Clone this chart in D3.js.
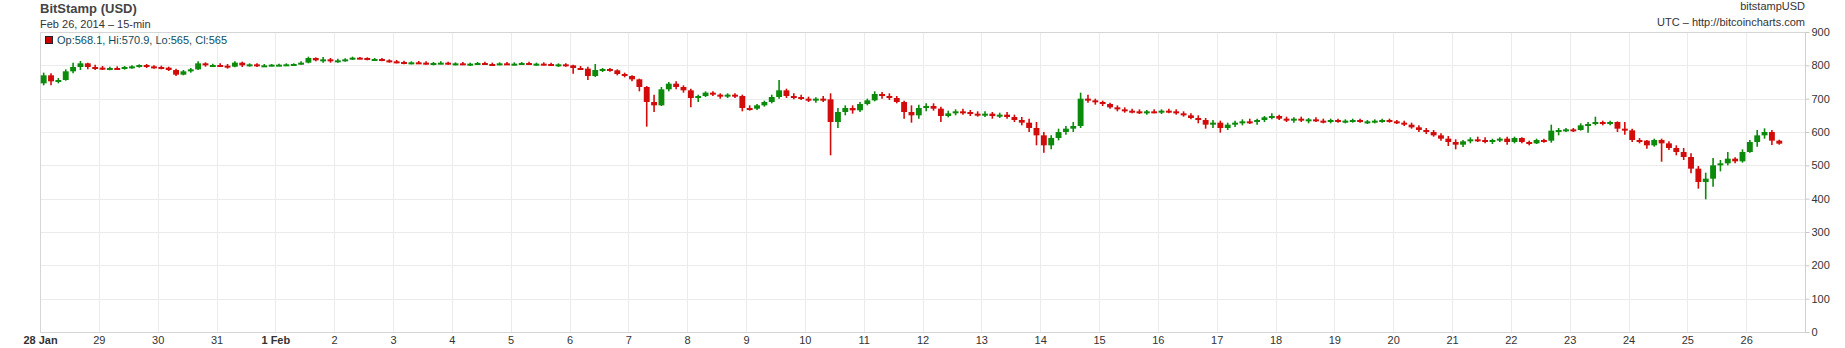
<!DOCTYPE html>
<html>
<head>
<meta charset="utf-8">
<script src="https://cdn.jsdelivr.net/npm/d3@7"></script>
<style>
  html, body { margin: 0; padding: 0; background: #fff; }
  svg { display: block; font-family: "Liberation Sans", Arial, sans-serif; }
</style>
</head>
<body>
<div id="chart"></div>
<script>
const firstCandle = "2014-01-28T00:00:00Z";
const lastDay = "2014-02-27T00:00:00Z";
const candleHours = 3;

const opens = [
  746, 770, 752, 756, 782, 795, 806, 795,
  793, 790, 792, 790, 795, 797, 801, 797,
  795, 793, 786, 772, 782, 788, 806, 800,
  801, 799, 796, 808, 800, 803, 799, 800,
  802, 802, 803, 804, 808, 822, 815, 818,
  812, 815, 818, 823, 822, 818, 819, 815,
  812, 810, 806, 809, 808, 805, 807, 808,
  804, 806, 803, 805, 807, 804, 803, 806,
  804, 805, 807, 803, 805, 804, 801, 803,
  800, 792, 790, 768, 786, 789, 785, 774,
  768, 758, 735, 690, 680, 728, 745, 735,
  725, 702, 708, 718, 712, 708, 712, 708,
  672, 670, 680, 690, 705, 725, 708, 705,
  700, 696, 700, 698, 630, 660, 672, 665,
  684, 695, 714, 708, 702, 690, 660, 650,
  672, 678, 670, 648, 656, 662, 660, 655,
  652, 655, 648, 652, 645, 636, 628, 612,
  590, 560, 582, 600, 610, 618, 700, 695,
  690, 684, 674, 668, 664, 662, 658, 662,
  660, 664, 662, 656, 650, 642, 636, 622,
  628, 612, 622, 628, 632, 630, 636, 644,
  648, 640, 636, 640, 634, 638, 634, 632,
  636, 632, 634, 636, 630, 632, 634, 636,
  632, 628, 622, 614, 606, 600, 590, 580,
  570, 562, 572, 578, 576, 572, 576, 580,
  570, 582, 570, 566, 576, 574, 604, 606,
  608, 606, 620, 624, 630, 626, 630, 610,
  605, 576, 574, 560, 576, 566, 552, 540,
  525, 490, 450, 460, 500, 506, 520, 512,
  540, 570, 590, 600, 574
];
const highs = [
  778, 776, 762, 788, 808, 813, 808, 802,
  798, 796, 797, 798, 800, 803, 804, 800,
  799, 796, 790, 786, 792, 812, 809, 805,
  806, 804, 812, 811, 806, 806, 804, 804,
  805, 806, 806, 812, 826, 824, 825, 822,
  820, 821, 826, 825, 824, 822, 822, 818,
  816, 814, 812, 813, 812, 810, 812, 811,
  809, 810, 808, 810, 811, 808, 809, 810,
  809, 810, 811, 808, 809, 808, 806, 806,
  802, 798, 796, 804, 792, 792, 788, 778,
  770, 760, 738, 712, 735, 750, 752, 740,
  730, 712, 722, 722, 716, 716, 716, 712,
  680, 684, 694, 712, 756, 730, 716, 712,
  706, 704, 708, 716, 672, 680, 680, 690,
  700, 722, 720, 716, 708, 694, 680, 682,
  686, 686, 676, 664, 668, 670, 666, 662,
  662, 660, 658, 660, 652, 645, 640, 630,
  600, 590, 610, 618, 630, 718, 712, 700,
  694, 688, 680, 674, 670, 668, 666, 668,
  668, 670, 668, 662, 656, 650, 642, 636,
  634, 628, 634, 638, 640, 640, 648, 656,
  652, 646, 644, 646, 642, 644, 640, 640,
  640, 638, 640, 640, 636, 638, 640, 640,
  636, 634, 628, 620, 612, 606, 596, 588,
  578, 576, 584, 586, 584, 580, 584, 586,
  586, 584, 574, 580, 580, 622, 612, 612,
  612, 626, 630, 646, 634, 634, 632, 630,
  610, 582, 576, 580, 580, 572, 560, 552,
  536, 498, 478, 522, 516, 540, 524, 548,
  576, 606, 611, 606, 577
];
const lows = [
  740, 740, 746, 754, 776, 786, 788, 786,
  786, 785, 786, 787, 790, 793, 792, 790,
  788, 783, 768, 770, 778, 786, 796, 796,
  795, 790, 794, 795, 796, 795, 795, 797,
  798, 799, 799, 802, 806, 812, 808, 808,
  808, 811, 816, 818, 815, 814, 812, 808,
  806, 803, 803, 805, 802, 800, 803, 802,
  800, 801, 798, 801, 802, 799, 800, 801,
  800, 802, 801, 799, 800, 798, 795, 796,
  775, 786, 756, 765, 780, 781, 770, 764,
  752, 722, 616, 660, 678, 722, 728, 718,
  674, 690, 705, 708, 700, 702, 702, 662,
  664, 666, 676, 686, 700, 702, 698, 696,
  690, 688, 690, 530, 612, 650, 655, 660,
  680, 692, 700, 696, 686, 640, 628, 640,
  662, 664, 630, 644, 650, 652, 648, 646,
  645, 640, 642, 640, 630, 620, 600, 560,
  538, 548, 575, 592, 600, 612, 688, 682,
  678, 670, 662, 658, 656, 654, 652, 656,
  654, 656, 652, 646, 638, 626, 610, 612,
  598, 606, 615, 620, 624, 622, 630, 638,
  636, 630, 628, 630, 626, 630, 626, 626,
  628, 626, 628, 628, 624, 626, 628, 628,
  624, 618, 610, 600, 594, 586, 574, 558,
  548, 555, 566, 570, 566, 564, 570, 562,
  566, 566, 560, 564, 568, 568, 590, 600,
  600, 604, 598, 620, 620, 620, 600, 592,
  570, 566, 550, 556, 511, 546, 530, 516,
  476, 430, 398, 436, 482, 500, 506, 508,
  538, 556, 580, 561, 562
];
const closes = [
  770, 752, 756, 782, 795, 806, 795, 793,
  790, 792, 790, 795, 797, 801, 797, 795,
  793, 786, 772, 782, 788, 806, 800, 801,
  799, 796, 808, 800, 803, 799, 800, 802,
  802, 803, 804, 808, 822, 815, 818, 812,
  815, 818, 823, 822, 818, 819, 815, 812,
  810, 806, 809, 808, 805, 807, 808, 804,
  806, 803, 805, 807, 804, 803, 806, 804,
  805, 807, 803, 805, 804, 801, 803, 800,
  792, 790, 768, 786, 789, 785, 774, 768,
  758, 735, 690, 680, 728, 745, 735, 725,
  702, 708, 718, 712, 708, 712, 708, 672,
  670, 680, 690, 705, 725, 708, 705, 700,
  696, 700, 698, 630, 660, 672, 665, 684,
  695, 714, 708, 702, 690, 660, 650, 672,
  678, 670, 648, 656, 662, 660, 655, 652,
  655, 648, 652, 645, 636, 628, 612, 590,
  560, 582, 600, 610, 618, 700, 695, 690,
  684, 674, 668, 664, 662, 658, 662, 660,
  664, 662, 656, 650, 642, 636, 622, 628,
  612, 622, 628, 632, 630, 636, 644, 648,
  640, 636, 640, 634, 638, 634, 632, 636,
  632, 634, 636, 630, 632, 634, 636, 632,
  628, 622, 614, 606, 600, 590, 580, 570,
  562, 572, 578, 576, 572, 576, 580, 570,
  582, 570, 566, 576, 574, 604, 606, 608,
  606, 620, 624, 630, 626, 630, 610, 605,
  576, 574, 560, 576, 566, 552, 540, 525,
  490, 450, 460, 500, 506, 520, 512, 540,
  570, 590, 600, 574, 565
];

const priceTicks = [0, 100, 200, 300, 400, 500, 600, 700, 800, 900];
const lastQuote = ["Op:568.1", "Hi:570.9", "Lo:565", "Cl:565"];

const width = 1845;
const height = 348;
const plot = { left: 40, right: 1805, top: 32, bottom: 332 };

const UP = "#0b8a0b";
const DOWN = "#d20b0b";

function drawChart() {
  const svg = d3.select("#chart")
    .append("svg")
    .attr("width", width)
    .attr("height", height);

  const start = new Date(firstCandle);
  const x = d3.scaleUtc()
    .domain([start, new Date(lastDay)])
    .range([plot.left, plot.right]);

  const y = d3.scaleLinear()
    .domain([0, 900])
    .range([plot.bottom, plot.top]);

  const dayTicks = d3.utcDay.range(start, new Date(lastDay));

  // grid
  const grid = svg.append("g").attr("class", "grid");
  grid.selectAll("line.h")
    .data(priceTicks)
    .enter()
    .append("line")
    .attr("x1", plot.left)
    .attr("x2", plot.right)
    .attr("y1", d => Math.round(y(d)) + 0.5)
    .attr("y2", d => Math.round(y(d)) + 0.5)
    .attr("stroke", "#ebebeb");

  grid.selectAll("line.v")
    .data(dayTicks.slice(1))
    .enter()
    .append("line")
    .attr("x1", d => Math.round(x(d)) + 0.5)
    .attr("x2", d => Math.round(x(d)) + 0.5)
    .attr("y1", plot.top)
    .attr("y2", plot.bottom)
    .attr("stroke", "#ebebeb");

  // frame: top, left, bottom
  svg.append("path")
    .attr("d", `M${plot.right},${plot.top + 0.5}H${plot.left + 0.5}V${plot.bottom + 0.5}H${plot.right}`)
    .attr("fill", "none")
    .attr("stroke", "#d6d6d6");

  // candles
  const candles = d3.range(closes.length).map(i => ({
    t: d3.utcHour.offset(start, candleHours * i),
    o: opens[i], h: highs[i], l: lows[i], c: closes[i]
  }));
  const step = x(d3.utcHour.offset(start, candleHours)) - x(start);
  const bodyW = step * 0.8;

  const cg = svg.append("g").attr("class", "candles");
  const node = cg.selectAll("g")
    .data(candles)
    .enter()
    .append("g")
    .attr("transform", d => `translate(${x(d3.utcMinute.offset(d.t, candleHours * 30))},0)`);

  node.append("line")
    .attr("y1", d => y(d.h))
    .attr("y2", d => y(d.l))
    .attr("stroke", d => d.c >= d.o ? UP : DOWN)
    .attr("stroke-width", 1.6);

  node.append("rect")
    .attr("x", -bodyW / 2)
    .attr("width", bodyW)
    .attr("y", d => y(Math.max(d.o, d.c)))
    .attr("height", d => Math.max(2, Math.abs(y(d.o) - y(d.c))))
    .attr("fill", d => d.c >= d.o ? UP : DOWN);

  // right price axis
  const yAxis = svg.append("g")
    .attr("transform", `translate(${plot.right + 0.5},0)`)
    .call(d3.axisRight(y).tickValues(priceTicks).tickSize(4).tickPadding(2));
  yAxis.select(".domain")
    .attr("d", `M0,${plot.top}V${plot.bottom + 1}`)
    .attr("stroke", "#d0d0d0");
  yAxis.selectAll(".tick line").attr("stroke", "#c8c8c8");
  yAxis.selectAll(".tick text")
    .attr("fill", "#333")
    .style("font-size", "11px");

  // bottom time axis
  const isMonthStart = (d, i) => i === 0 || d.getUTCDate() === 1;
  const xAxis = svg.append("g")
    .attr("transform", `translate(0,${plot.bottom})`)
    .call(d3.axisBottom(x)
      .tickValues(dayTicks)
      .tickSize(0)
      .tickPadding(4)
      .tickFormat((d, i) => isMonthStart(d, i) ? d3.utcFormat("%-d %b")(d) : d3.utcFormat("%-d")(d)));
  xAxis.select(".domain").remove();
  xAxis.selectAll(".tick text")
    .attr("fill", "#333")
    .style("font-size", "11px")
    .style("font-weight", (d, i) => isMonthStart(d, i) ? "bold" : "normal");

  // titles
  svg.append("text")
    .attr("x", 40)
    .attr("y", 12.5)
    .attr("fill", "#444")
    .style("font-size", "13px")
    .style("font-weight", "bold")
    .text("BitStamp (USD)");

  svg.append("text")
    .attr("x", 40)
    .attr("y", 28)
    .attr("fill", "#333")
    .style("font-size", "11px")
    .text("Feb 26, 2014 \u2013 15-min");

  svg.append("text")
    .attr("x", plot.right)
    .attr("y", 10)
    .attr("text-anchor", "end")
    .attr("fill", "#333")
    .style("font-size", "11px")
    .text("bitstampUSD");

  svg.append("text")
    .attr("x", plot.right)
    .attr("y", 26)
    .attr("text-anchor", "end")
    .attr("fill", "#333")
    .style("font-size", "11px")
    .text("UTC \u2013 http://bitcoincharts.com");

  // legend for the last bar
  svg.append("rect")
    .attr("x", 45.5)
    .attr("y", 36.5)
    .attr("width", 7)
    .attr("height", 7)
    .attr("fill", "#cc0000")
    .attr("stroke", "#222");

  svg.append("text")
    .attr("x", 57)
    .attr("y", 44)
    .attr("fill", "#0f4c5c")
    .style("font-size", "11px")
    .text(lastQuote.join(", "));
}

if (document.readyState === "loading") {
  document.addEventListener("DOMContentLoaded", drawChart);
} else {
  drawChart();
}
</script>
</body>
</html>
